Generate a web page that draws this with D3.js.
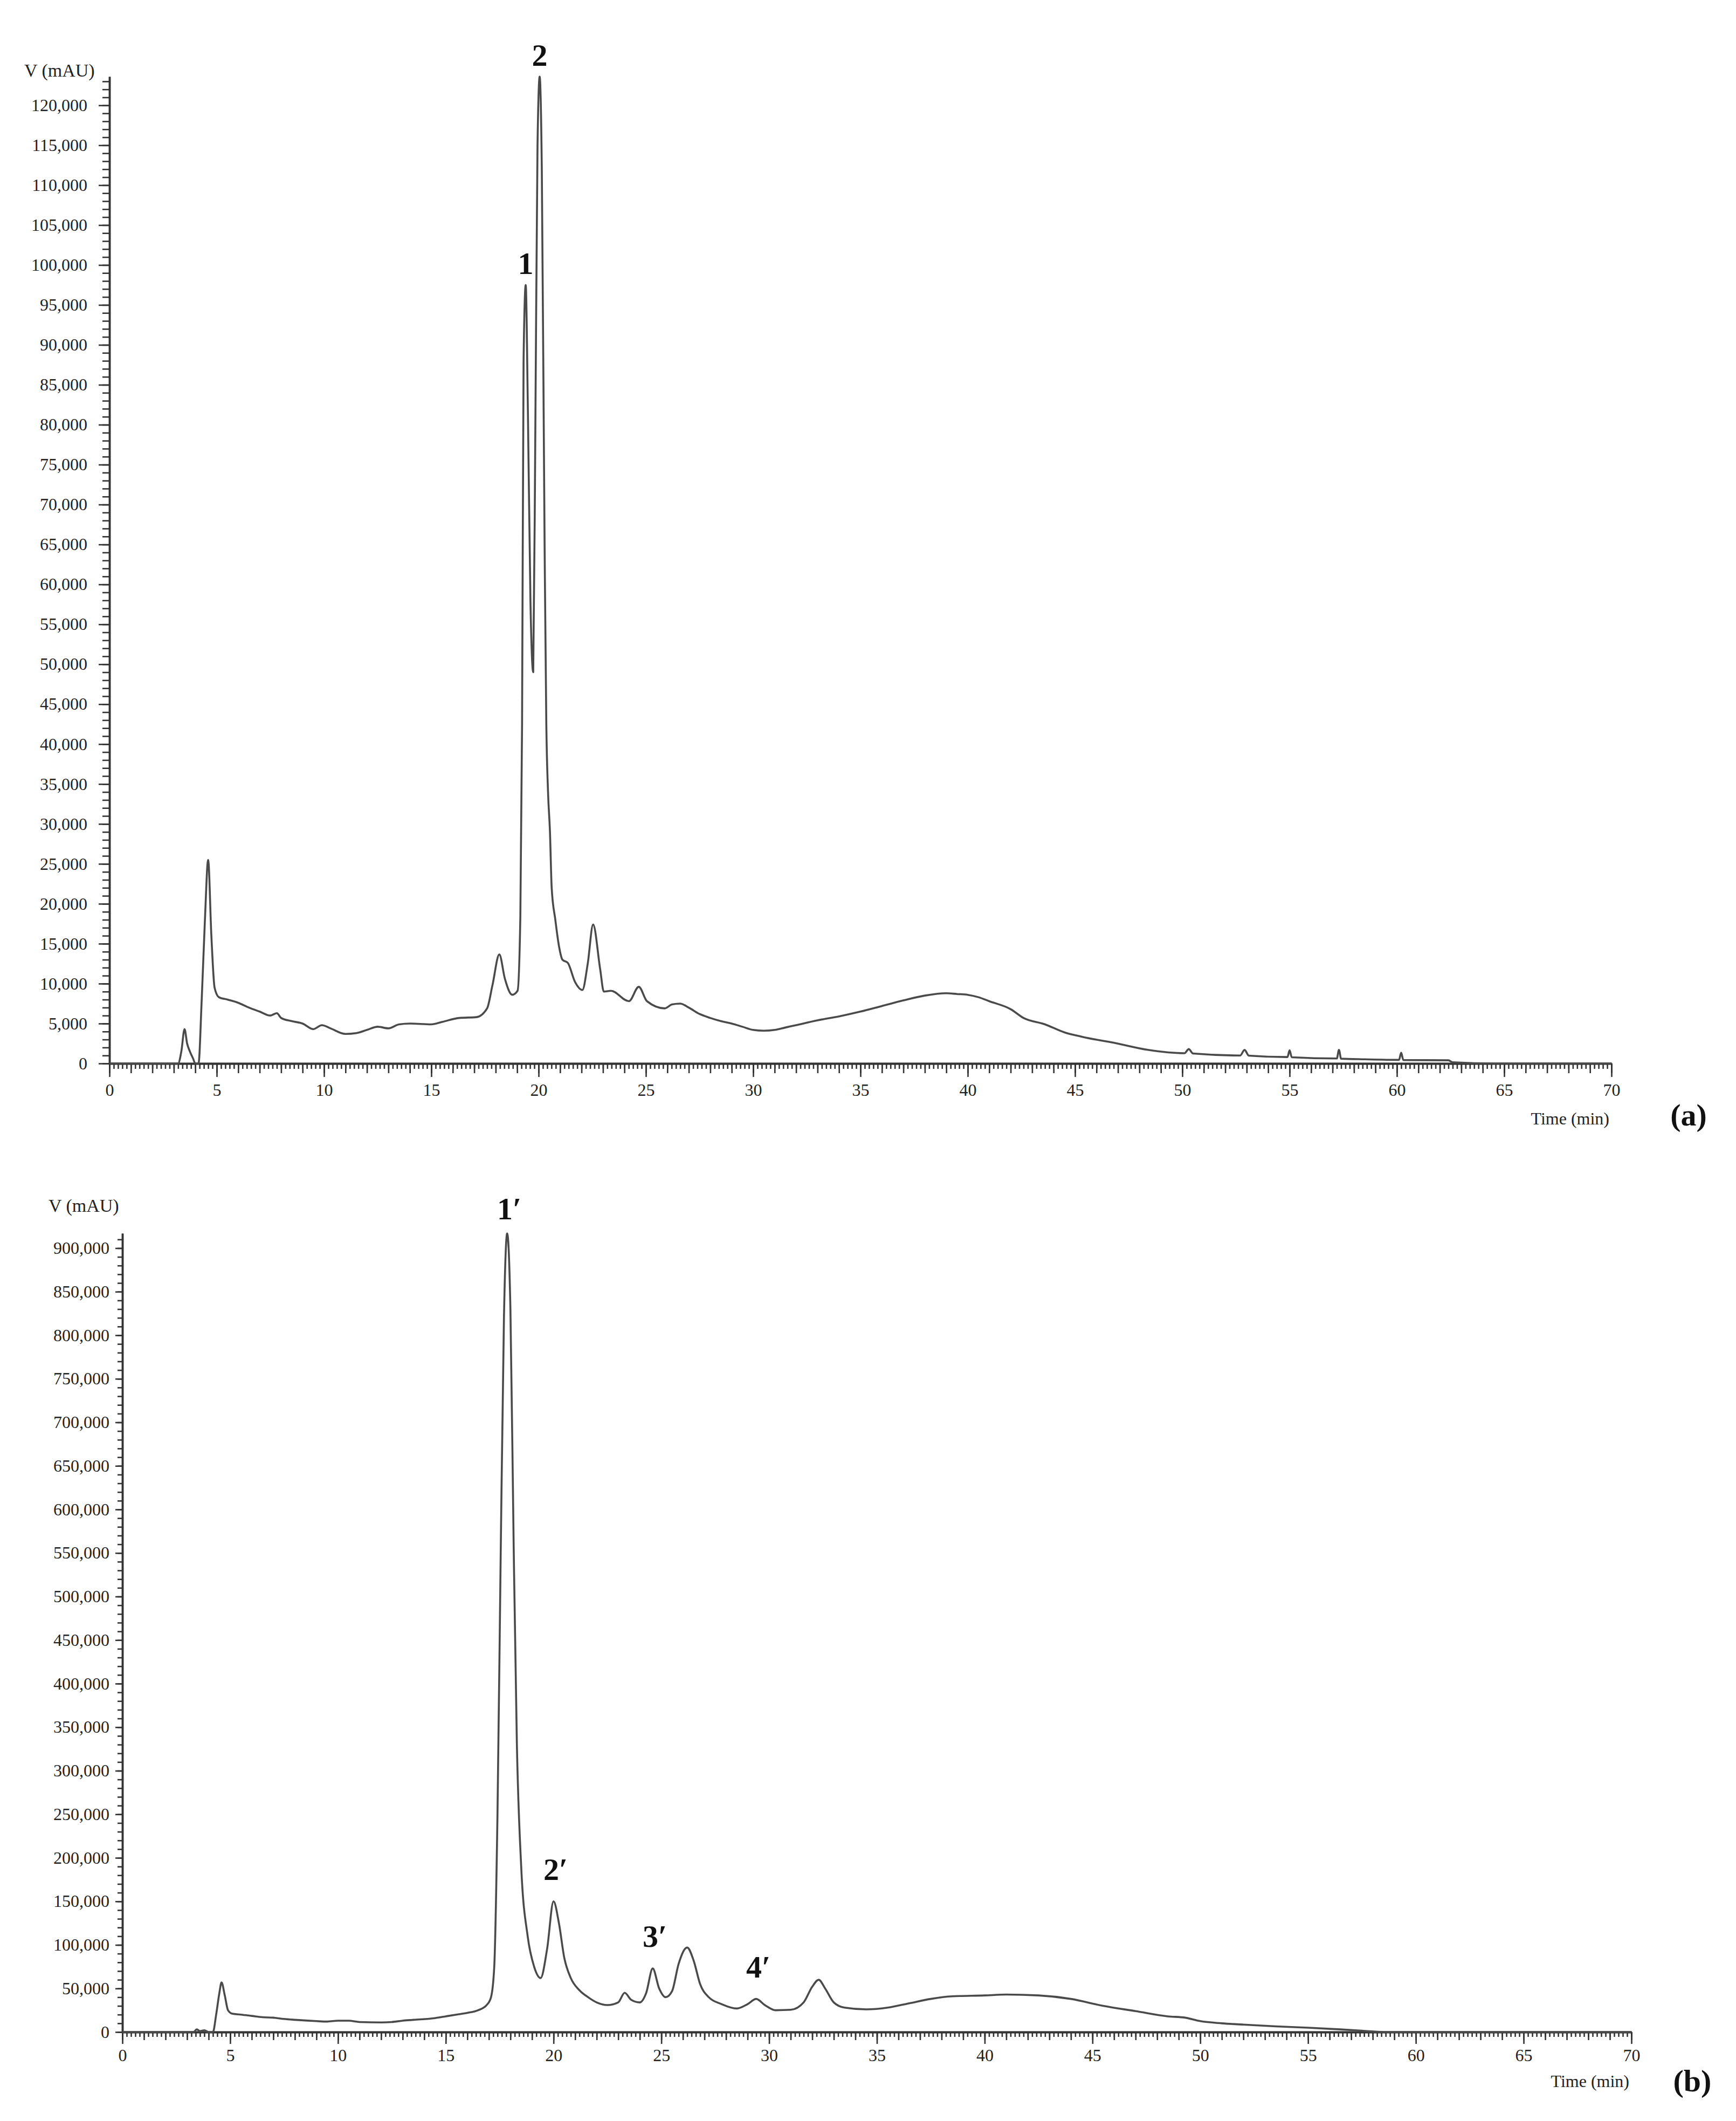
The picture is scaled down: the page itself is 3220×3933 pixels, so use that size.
<!DOCTYPE html>
<html><head><meta charset="utf-8">
<script src="https://cdn.jsdelivr.net/npm/d3@7"></script>
<style>body{margin:0;background:#fff}svg{display:block;background:#fff}</style>
</head><body>
<svg id="c" width="3220" height="3933"></svg>
<script>
// ---------------- DATA ----------------
const timeTicks = [0,5,10,15,20,25,30,35,40,45,50,55,60,65,70];

// Panel (a)
const timeA = [0,3.2,3.35,3.5,3.62,3.75,3.9,4.0,4.15,4.3,4.45,4.6,4.75,4.9,5.1,5.5,6.0,6.5,7.0,7.5,7.8,8.0,8.5,9.0,9.5,9.9,10.3,11.0,11.5,12.0,12.5,13.0,13.5,14.0,15.0,15.5,16.3,17.1,17.6,17.85,18.17,18.43,18.77,19.02,19.15,19.23,19.3,19.4,19.5,19.62,19.75,19.85,19.95,20.05,20.15,20.28,20.36,20.44,20.53,20.61,20.78,20.95,21.11,21.36,21.7,22.04,22.29,22.54,22.87,23.04,23.37,24.21,24.67,25.05,25.88,26.22,26.6,27.0,27.5,28.0,28.5,29.0,29.5,30.0,30.5,31.0,31.5,32.0,33.0,34.0,35.0,36.0,37.0,38.0,39.0,39.5,40.0,40.5,41.0,42.0,42.6,43.6,44.5,45.4,46.8,48.4,50.1,50.3,50.5,52.7,52.9,53.1,54.9,55.0,55.1,57.2,57.3,57.4,58.5,60.1,60.2,60.3,62.4,62.6,64.6,70];
const signalA = [0,0,1500,4300,2500,1500,600,0,0,8000,18000,25500,16000,9500,8300,8000,7600,7000,6500,6000,6300,5700,5300,5000,4300,4800,4400,3700,3800,4200,4600,4400,4900,5000,4900,5200,5700,5800,6900,9800,13650,10600,8600,9100,18400,42500,88000,97500,82000,58000,49000,80000,115000,123600,112000,65000,42500,34000,29000,22000,18000,14700,13000,12600,10200,9200,12500,17400,11800,9000,9100,7800,9600,7800,6900,7400,7500,7000,6200,5700,5300,5000,4600,4200,4100,4200,4500,4800,5400,5900,6500,7200,7900,8500,8800,8700,8600,8300,7800,6800,5700,4900,3900,3300,2600,1700,1280,1800,1250,1000,1700,980,800,1650,780,620,1700,600,520,450,1350,430,400,150,0,0];
const yTicksA = [0,5000,10000,15000,20000,25000,30000,35000,40000,45000,50000,55000,60000,65000,70000,75000,80000,85000,90000,95000,100000,105000,110000,115000,120000];
const yMaxA = 123600;
const peaksA = [
  {label:"1", t:19.4, v:97500},
  {label:"2", t:20.05, v:123600}
];

// Panel (b)
const timeB = [0,3.3,3.45,3.6,3.8,4.0,4.2,4.35,4.5,4.6,4.75,4.9,5.1,5.5,6.0,6.5,7.0,7.5,8.0,9.0,9.5,10.0,10.5,11.0,12.0,12.5,13.0,13.5,14.5,15.0,15.5,16.0,16.5,16.9,17.1,17.25,17.4,17.55,17.7,17.85,18.0,18.15,18.3,18.5,18.8,19.1,19.4,19.7,20.0,20.25,20.5,20.8,21.2,21.6,22.0,22.5,23.0,23.3,23.6,24.0,24.3,24.6,24.9,25.2,25.5,25.8,26.2,26.5,26.8,27.2,27.8,28.5,29.0,29.4,29.8,30.3,31.0,31.6,32.0,32.3,32.6,33.0,33.5,34.5,35.5,36.5,37.5,38.5,40.0,41.0,42.5,44.0,45.5,47.0,48.5,49.3,50.0,51.0,52.0,53.5,55.0,56.5,57.5,58.5,70];
const signalB = [0,0,3000,1000,2000,0,0,20000,45000,57000,42000,25000,21000,20000,18500,17000,16500,15000,14000,12500,12000,13000,13000,11500,11000,11500,13000,14000,16000,18000,20000,22000,25000,31000,40000,75000,250000,550000,820000,917000,830000,560000,330000,190000,110000,75000,62000,95000,150000,125000,85000,62000,48000,40000,34000,31000,34000,45000,37000,34000,45000,73000,50000,40000,47000,78000,97000,82000,55000,40000,32000,27000,32000,38000,31000,25000,25500,34000,52000,60000,50000,34000,28000,26000,28000,33000,38000,41000,42000,43000,42000,38000,30000,24000,18000,16500,12500,10000,8500,6500,5000,3000,1500,0,0];
const yTicksB = [0,50000,100000,150000,200000,250000,300000,350000,400000,450000,500000,550000,600000,650000,700000,750000,800000,850000,900000];
const yMaxB = 917000;
const peaksB = [
  {label:"1\u2032", t:17.85, v:917000},
  {label:"2\u2032", t:20.0, v:150000},
  {label:"3\u2032", t:24.6, v:73000},
  {label:"4\u2032", t:29.4, v:38000}
];

// ---------------- DRAW ----------------
const svg = d3.select("#c");
const FONT = "'Liberation Serif','Times New Roman',serif";
const fmt = d3.format(",");

function drawPanel(o) {
  const g = svg.append("g");
  const x = d3.scaleLinear().domain([0,70]).range([o.x0, o.x1]);
  const y = d3.scaleLinear().domain([0,o.yMax]).range([o.y0, o.y1]);

  const xMinor = d3.range(0, 70.001, 0.2).map(v => +v.toFixed(1));
  const xMed = d3.range(0, 71, 1);
  g.append("g").attr("transform",`translate(0,${o.y0})`)
    .call(d3.axisBottom(x).tickValues(xMinor).tickSize(o.xt[2]).tickFormat("").tickSizeOuter(0));
  g.append("g").attr("transform",`translate(0,${o.y0})`)
    .call(d3.axisBottom(x).tickValues(xMed).tickSize(o.xt[1]).tickFormat("").tickSizeOuter(0));
  g.append("g").attr("transform",`translate(0,${o.y0})`)
    .call(d3.axisBottom(x).tickValues(timeTicks).tickSize(o.xt[0]).tickPadding(o.xPad).tickFormat(d3.format("d")).tickSizeOuter(0));

  const yMinor = d3.range(0, o.yMax + 1, o.yMinorStep);
  g.append("g").attr("transform",`translate(${o.x0},0)`)
    .call(d3.axisLeft(y).tickValues(yMinor).tickSize(o.yt[1]).tickFormat("").tickSizeOuter(0));
  g.append("g").attr("transform",`translate(${o.x0},0)`)
    .call(d3.axisLeft(y).tickValues(o.yTicks).tickSize(o.yt[0]).tickPadding(o.yPad).tickFormat(fmt).tickSizeOuter(0));

  g.selectAll(".domain").attr("stroke","#333").attr("stroke-width",3.5);
  g.selectAll(".tick line").attr("stroke","#333").attr("stroke-width",2.6);
  g.selectAll(".tick text").attr("font-family",FONT).attr("font-size",32).attr("fill","#222");

  const pts = o.t.map((t,i)=>[t,o.v[i]]);
  g.append("path").datum(pts)
    .attr("fill","none").attr("stroke","#4a4a4a").attr("stroke-width",3.6)
    .attr("stroke-linejoin","round")
    .attr("d", d3.line().x(d=>x(d[0])).y(d=>y(d[1])).curve(d3.curveMonotoneX));

  g.append("text").attr("x",o.vLabel[0]).attr("y",o.vLabel[1])
    .attr("font-family",FONT).attr("font-size",34).attr("fill","#222").text("V (mAU)");
  g.append("text").attr("x",o.x1 - 4).attr("y",o.tLabelY).attr("text-anchor","end")
    .attr("font-family",FONT).attr("font-size",32).attr("fill","#222").text("Time (min)");
  g.append("text").attr("x",o.panelLabel[0]).attr("y",o.panelLabel[1]).attr("text-anchor","middle")
    .attr("font-family",FONT).attr("font-size",58).attr("font-weight","bold").attr("fill","#111").text(o.panel);

  g.selectAll("text.pk").data(o.peaks).enter().append("text").attr("class","pk")
    .attr("x", d => x(d.t) + (d.label.length>1 ? 4 : 0))
    .attr("y", (d,i) => y(d.v) - (i === 0 ? o.pkGap[0] : o.pkGap[1]))
    .attr("text-anchor","middle")
    .attr("font-family",FONT).attr("font-size",58).attr("font-weight","bold").attr("fill","#111")
    .text(d => d.label);
}

drawPanel({x0:203, x1:2989, y0:1972, y1:142, yMax:yMaxA, yTicks:yTicksA, yMinorStep:1000,
  t:timeA, v:signalA, xt:[25,18,10], yt:[20,13], xPad:12, yPad:21,
  vLabel:[45,142], tLabelY:2085, panelLabel:[3132,2087], panel:"(a)", peaks:peaksA, pkGap:[20,20]});

drawPanel({x0:227, x1:3026, y0:3768, y1:2287, yMax:yMaxB, yTicks:yTicksB, yMinorStep:10000,
  t:timeB, v:signalB, xt:[22,15,9], yt:[13,9], xPad:9, yPad:11,
  vLabel:[90,2247], tLabelY:3870, panelLabel:[3139,3878], panel:"(b)", peaks:peaksB, pkGap:[26,40]});
</script>
</body></html>
